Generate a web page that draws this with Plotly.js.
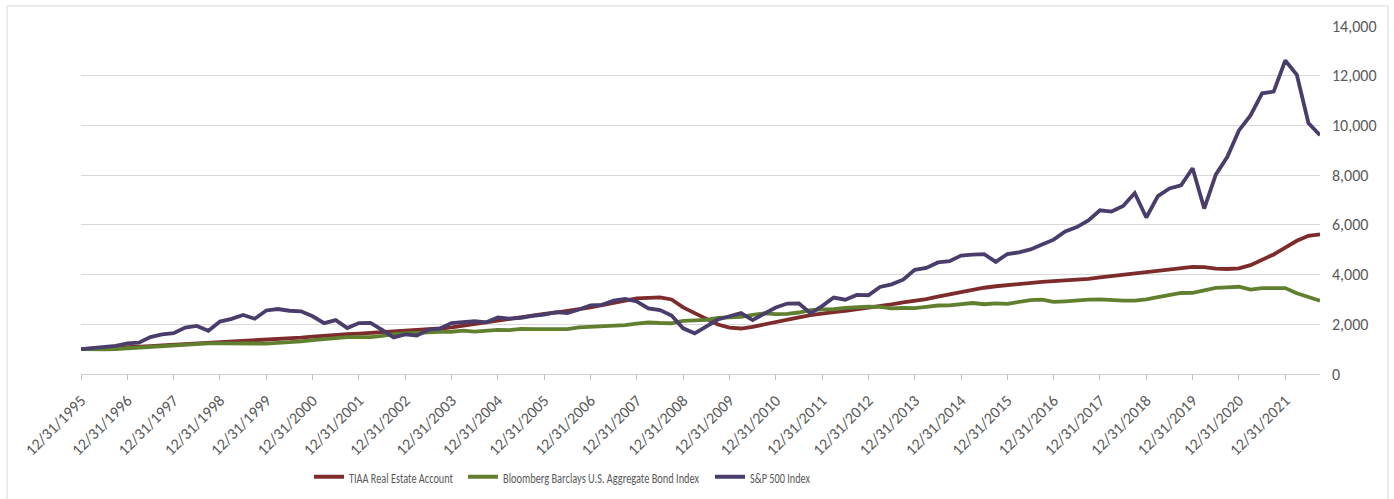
<!DOCTYPE html>
<html>
<head>
<meta charset="utf-8">
<script src="https://cdn.plot.ly/plotly-3.0.1.min.js"></script>
<style>
  html, body { margin: 0; padding: 0; background: #ffffff; }
  #chart { width: 1394px; height: 499px; }
</style>
</head>
<body>
<div id="chart"></div>
<script>
// Quarter-end dates from 12/31/1995 through 9/30/2022 (category labels)
const quarterEnds = [["3","31"],["6","30"],["9","30"],["12","31"]];
const dates = ["12/31/1995"];
for (let y = 1996; y <= 2022; y++) {
  for (const [m, d] of quarterEnds) {
    if (y === 2022 && m === "12") break;
    dates.push(m + "/" + d + "/" + y);
  }
}

const seriesNames = [
  "TIAA Real Estate Account",
  "Bloomberg Barclays U.S. Aggregate Bond Index",
  "S&P 500 Index"
];

// TIAA Real Estate Account (growth of 1,000)
const tiaa = [
  1000,
  1015, 1035, 1055, 1080,
  1100, 1125, 1150, 1175,
  1200, 1225, 1250, 1275,
  1295, 1315, 1335, 1355,
  1390, 1425, 1465, 1505,
  1545, 1575, 1600, 1625,
  1650, 1675, 1700, 1730,
  1760, 1790, 1830, 1880,
  1950, 2020, 2080, 2150,
  2210, 2280, 2350, 2420,
  2470, 2530, 2600, 2680,
  2770, 2870, 2970, 3040,
  3060, 3080, 3000, 2680,
  2450, 2220, 1990, 1870,
  1830, 1900, 2000, 2110,
  2200, 2280, 2370, 2440,
  2490, 2540, 2600, 2660,
  2730, 2800, 2880, 2940,
  3010, 3110, 3200, 3310,
  3400, 3470, 3530, 3580,
  3640, 3680, 3710, 3735,
  3760, 3790, 3825, 3885,
  3940, 3995, 4040, 4090,
  4155, 4210, 4265, 4310,
  4300, 4240, 4225, 4250,
  4380, 4580, 4810, 5080,
  5360, 5560, 5620
];

// Bloomberg Barclays U.S. Aggregate Bond Index (growth of 1,000)
const agg = [
  1000,
  982, 988, 1006, 1036,
  1030, 1068, 1104, 1136,
  1154, 1181, 1231, 1235,
  1229, 1218, 1227, 1225,
  1252, 1273, 1311, 1367,
  1408, 1416, 1481, 1482,
  1483, 1538, 1608, 1633,
  1656, 1698, 1695, 1700,
  1746, 1703, 1757, 1774,
  1766, 1819, 1806, 1817,
  1805, 1804, 1873, 1896,
  1924, 1914, 1969, 2028,
  2072, 2051, 2041, 2134,
  2137, 2175, 2256, 2260,
  2301, 2381, 2440, 2408,
  2418, 2474, 2568, 2597,
  2605, 2658, 2700, 2706,
  2703, 2640, 2655, 2651,
  2700, 2755, 2760, 2809,
  2855, 2807, 2841, 2825,
  2911, 2975, 2989, 2899,
  2923, 2966, 2991, 3002,
  2959, 2954, 2955, 3003,
  3091, 3186, 3259, 3265,
  3367, 3465, 3487, 3510,
  3392, 3454, 3455, 3456,
  3251, 3098, 2951
];

// S&P 500 Index (growth of 1,000)
const spx = [
  1000,
  1054, 1101, 1135, 1230,
  1263, 1484, 1595, 1641,
  1870, 1932, 1740, 2111,
  2216, 2372, 2224, 2556,
  2614, 2545, 2520, 2323,
  2048, 2168, 1850, 2047,
  2053, 1778, 1471, 1594,
  1544, 1781, 1828, 2051,
  2085, 2121, 2081, 2274,
  2226, 2257, 2338, 2387,
  2488, 2452, 2592, 2765,
  2782, 2957, 3017, 2917,
  2642, 2570, 2355, 1838,
  1636, 1896, 2192, 2324,
  2450, 2170, 2415, 2676,
  2834, 2837, 2443, 2731,
  3075, 2989, 3180, 3168,
  3504, 3606, 3793, 4191,
  4267, 4489, 4538, 4761,
  4806, 4820, 4510, 4827,
  4892, 5013, 5206, 5405,
  5733, 5910, 6175, 6585,
  6535, 6759, 7280, 6296,
  7155, 7463, 7590, 8278,
  6655, 8022, 8738, 9800,
  10405, 11294, 11360, 12613,
  12033, 10096, 9603
];

const seriesColors = ["#7D2B2B", "#61802F", "#4A3D6B"];
const seriesData = [tiaa, agg, spx];

const yearTicks = dates.filter(d => d.startsWith("12/31/"));
const yTickVals = [0, 2000, 4000, 6000, 8000, 10000, 12000, 14000];

// each series gets its own legend so entries sit where the reference has them
const legendIds = ["legend", "legend2", "legend3"];
const legendLeftPx = [309, 463, 710];
const legendTextPx = [104, 196, 60];

const W = 1394, H = 499;
const plotLeft = 81, plotWidth = W - 81 - 74, plotHeight = H - 26 - 125;

const traces = seriesData.map((vals, k) => ({
  type: "scatter",
  mode: "lines",
  name: seriesNames[k],
  legend: legendIds[k],
  showlegend: true,
  x: dates,
  y: vals,
  line: { color: seriesColors[k], width: 3.8 },
  cliponaxis: false
}));

const axisFont = { family: "Carlito, Calibri, Lato, 'Open Sans', sans-serif", size: 16, color: "#595959" };
const legendFont = { family: "Carlito, Calibri, Lato, sans-serif", size: 15, color: "#595959" };

const layout = {
  width: W,
  height: H,
  margin: { l: 81, r: 74, t: 26, b: 125, pad: 0, autoexpand: false },
  paper_bgcolor: "#ffffff",
  plot_bgcolor: "#ffffff",
  showlegend: true,
  xaxis: {
    type: "category",
    range: [0, dates.length - 1],
    tickvals: yearTicks,
    ticktext: yearTicks,
    tickangle: -45,
    tickfont: axisFont,
    ticks: "outside",
    ticklen: 5,
    tickcolor: "#bfbfbf",
    ticklabelstandoff: 5,
    showline: true,
    linecolor: "#d0d0d0",
    linewidth: 1,
    showgrid: false,
    zeroline: false,
    automargin: false,
    fixedrange: true
  },
  yaxis: {
    side: "right",
    range: [0, 14000],
    tickvals: yTickVals,
    tickformat: ",",
    tickfont: axisFont,
    ticks: "",
    ticklabelstandoff: 11,
    showline: false,
    showgrid: true,
    gridcolor: "#d9d9d9",
    gridwidth: 1,
    zeroline: false,
    automargin: false,
    fixedrange: true
  },
  shapes: [{
    type: "rect",
    xref: "paper", yref: "paper",
    x0: (7 - plotLeft) / plotWidth, x1: (1388 - plotLeft) / plotWidth,
    y0: -0.5, y1: (374 - 6) / plotHeight,
    line: { color: "#d9d9d9", width: 1 },
    fillcolor: "rgba(0,0,0,0)",
    layer: "below"
  }]
};

legendIds.forEach((id, k) => {
  layout[id] = {
    visible: true,
    orientation: "h",
    xref: "container",
    yref: "container",
    x: legendLeftPx[k] / W,
    xanchor: "left",
    y: 1 - 477 / H,
    yanchor: "middle",
    font: legendFont,
    itemwidth: 30,
    bgcolor: "rgba(0,0,0,0)",
    borderwidth: 0
  };
});

function squeezeLegend(gd) {
  // the reference legend uses a condensed face: squeeze each label to its width
  gd.querySelectorAll("text").forEach(t => {
    const k = seriesNames.indexOf(t.textContent.trim());
    if (k >= 0 && t.getAttribute("textLength") !== String(legendTextPx[k])) {
      t.setAttribute("textLength", legendTextPx[k]);
      t.setAttribute("lengthAdjust", "spacingAndGlyphs");
    }
  });
}

const gdEl = document.getElementById("chart");
Plotly.newPlot(gdEl, traces, layout, { staticPlot: true, displayModeBar: false }).then(gd => {
  squeezeLegend(gd);
  gd.on("plotly_afterplot", () => squeezeLegend(gd));
  setTimeout(() => squeezeLegend(gd), 30);
  setTimeout(() => squeezeLegend(gd), 200);
});
</script>
</body>
</html>
